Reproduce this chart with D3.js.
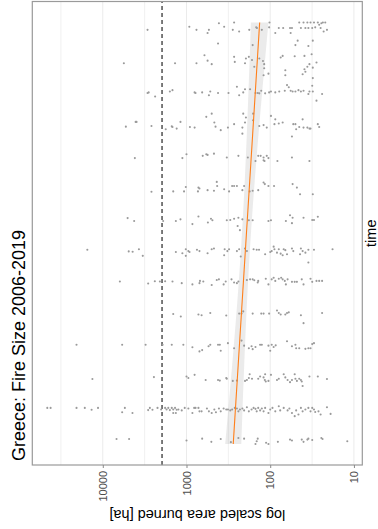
<!DOCTYPE html>
<html>
<head>
<meta charset="utf-8">
<script src="https://cdn.jsdelivr.net/npm/d3@7"></script>
<style>
  html, body { margin: 0; padding: 0; background: #fff; }
  svg { display: block; }
  text { font-family: "Liberation Sans", Arial, Helvetica, sans-serif; }
</style>
</head>
<body>
<svg id="chart" width="378" height="529"></svg>
<script>
// Fires per year: [fraction of the year, area burned in ha]
const fires2006 = [[0.59,6850],[0.59,4850],[0.54,1000],[0.60,650],[0.50,505],[0.59,390],[0.49,295],[0.62,240],[0.60,205],[0.434,150],[0.52,145],[0.60,141],[0.47,112],[0.434,105],[0.50,81],[0.57,58],[0.54,55],[0.57,42],[0.50,40],[0.57,36],[0.60,35],[0.56,31.5],[0.62,24.5],[0.59,23.7],[0.52,12]];
const fires2007 = [[0.57,46000],[0.57,42000],[0.57,20600],[0.57,16400],[0.51,13600],[0.57,11400],[0.57,5450],[0.43,5870],[0.41,4420],[0.50,2870],[0.57,2740],[0.51,2550],[0.57,2220],[0.52,2010],[0.57,1800],[0.52,1730],[0.57,1650],[0.50,1580],[0.57,1500],[0.52,1440],[0.57,1370],[0.51,1310],[0.52,1250],[0.41,1440],[0.41,1340],[0.49,1140],[0.57,1050],[0.55,950],[0.41,850],[0.57,810],[0.57,780],[0.57,720],[0.46,700],[0.46,660],[0.55,570],[0.46,540],[0.41,500],[0.52,465],[0.43,445],[0.55,410],[0.46,390],[0.55,360],[0.52,335],[0.52,320],[0.49,300],[0.52,285],[0.57,265],[0.55,250],[0.46,240],[0.52,230],[0.55,215],[0.49,205],[0.59,190],[0.46,180],[0.52,167],[0.57,158],[0.54,150],[0.46,145],[0.57,139],[0.49,132],[0.55,126],[0.46,120],[0.57,115],[0.41,105],[0.52,100],[0.57,94],[0.46,87],[0.62,79],[0.49,76],[0.57,69],[0.49,62],[0.55,59],[0.41,55],[0.31,51],[0.49,49],[0.36,46],[0.57,43],[0.46,41],[0.52,38],[0.57,35],[0.46,33],[0.57,31.5],[0.52,30],[0.44,29],[0.46,26.5],[0.36,25],[0.59,21],[0.38,19]];
const fires2008 = [[0.48,13300],[0.54,2450],[0.56,1000],[0.51,950],[0.61,800],[0.45,590],[0.45,420],[0.43,400],[0.51,335],[0.49,330],[0.42,280],[0.43,250],[0.42,200],[0.45,190],[0.51,180],[0.63,176],[0.49,165],[0.49,139],[0.56,132],[0.53,120],[0.45,116],[0.63,115],[0.40,113],[0.42,105],[0.61,98],[0.45,83],[0.49,79],[0.63,69],[0.53,66],[0.45,62],[0.38,58],[0.45,55],[0.63,51],[0.49,50],[0.42,48],[0.49,45],[0.45,43],[0.40,42],[0.26,41],[0.56,34],[0.56,27],[0.48,21]];
const fires2009 = [[0.56,20600],[0.56,5870],[0.56,3080],[0.56,1930],[0.56,1500],[0.56,1090],[0.48,850],[0.35,700],[0.39,650],[0.51,545],[0.56,520],[0.56,420],[0.56,400],[0.37,390],[0.61,320],[0.45,270],[0.69,220],[0.53,205],[0.45,180],[0.51,167],[0.42,162],[0.49,150],[0.56,132],[0.56,126],[0.53,105],[0.56,96],[0.49,91],[0.37,100],[0.54,86],[0.67,63],[0.51,55],[0.56,50],[0.45,49],[0.45,45],[0.43,38],[0.45,35],[0.45,33],[0.58,31.5],[0.61,30]];
const fires2010 = [[0.53,1440],[0.45,1170],[0.51,720],[0.49,660],[0.56,520],[0.48,335],[0.54,235],[0.54,220],[0.61,210],[0.54,162],[0.54,128],[0.54,120],[0.54,103],[0.64,83],[0.56,79],[0.51,75],[0.51,66],[0.56,63],[0.58,60],[0.49,43],[0.24,40],[0.56,24]];
const fires2011 = [[0.55,6250],[0.49,2870],[0.56,2390],[0.55,2080],[0.56,1800],[0.55,1470],[0.50,1140],[0.46,850],[0.50,700],[0.57,690],[0.55,630],[0.44,500],[0.60,435],[0.62,410],[0.46,360],[0.55,340],[0.62,290],[0.52,270],[0.50,250],[0.55,240],[0.60,190],[0.62,174],[0.62,162],[0.59,155],[0.52,141],[0.57,139],[0.64,113],[0.46,105],[0.62,96],[0.67,91],[0.57,87],[0.64,79],[0.67,74],[0.62,71],[0.57,67],[0.46,65],[0.62,62],[0.54,55],[0.54,51],[0.54,48],[0.62,42],[0.46,40],[0.64,33],[0.54,31.5],[0.57,28],[0.57,26],[0.57,24]];
const fires2012 = [[0.55,15300],[0.50,4900],[0.49,4400],[0.57,3700],[0.36,3330],[0.48,1340],[0.44,1120],[0.57,1020],[0.36,1020],[0.51,950],[0.48,920],[0.55,750],[0.51,700],[0.44,560],[0.57,500],[0.59,470],[0.57,350],[0.38,355],[0.51,325],[0.57,310],[0.51,250],[0.57,235],[0.34,225],[0.59,200],[0.51,190],[0.57,158],[0.55,145],[0.55,136],[0.41,115],[0.48,100],[0.51,96],[0.65,91],[0.57,89],[0.46,83],[0.57,79],[0.43,75],[0.38,71],[0.57,69],[0.54,66],[0.41,63],[0.59,55],[0.51,53],[0.41,44],[0.59,43],[0.51,41],[0.46,38],[0.55,35],[0.15,35],[0.55,30],[0.57,18]];
const fires2013 = [[0.55,5050],[0.46,4220],[0.46,1900],[0.46,1340],[0.51,1180],[0.36,850],[0.60,720],[0.41,555],[0.53,510],[0.48,490],[0.48,330],[0.49,300],[0.53,270],[0.56,240],[0.30,245],[0.17,230],[0.51,215],[0.48,180],[0.48,162],[0.46,105],[0.48,98],[0.46,65],[0.64,58],[0.56,54],[0.39,55],[0.56,40],[0.49,31.5],[0.49,30],[0.59,27]];
const fires2014 = [[0.38,2620],[0.39,1440],[0.39,1070],[0.53,1020],[0.51,720],[0.48,700],[0.39,730],[0.43,560],[0.41,470],[0.69,435],[0.56,430],[0.46,355],[0.39,310],[0.56,285],[0.56,270],[0.56,250],[0.43,215],[0.56,205],[0.39,176],[0.41,162],[0.43,139],[0.67,120],[0.62,116],[0.56,105],[0.56,90],[0.62,54],[0.51,48],[0.30,44],[0.30,31]];
const fires2015 = [[0.44,4140],[0.44,1120],[0.56,1000],[0.51,640],[0.56,580],[0.54,560],[0.58,470],[0.46,330],[0.51,240],[0.46,185],[0.35,150],[0.51,139],[0.51,130],[0.46,120],[0.35,117],[0.51,110],[0.44,105],[0.37,120],[0.35,82],[0.46,55],[0.35,34]];
const fires2016 = [[0.43,5300],[0.58,4050],[0.58,3950],[0.45,2620],[0.35,1770],[0.44,1500],[0.42,1470],[0.37,1310],[0.58,1180],[0.42,910],[0.40,800],[0.74,580],[0.84,500],[0.56,465],[0.43,450],[0.32,390],[0.40,320],[0.51,270],[0.84,210],[0.72,195],[0.56,200],[0.40,215],[0.21,215],[0.84,160],[0.63,160],[0.45,135],[0.48,120],[0.40,110],[0.77,98],[0.66,87],[0.51,89],[0.53,79],[0.56,71],[0.12,55],[0.51,53],[0.51,50],[0.35,49],[0.42,45],[0.66,41],[0.40,40],[0.40,36],[0.37,34],[0.37,33],[0.51,27],[0.42,26]];
const fires2017 = [[0.69,250],[0.61,200],[0.51,210],[0.42,235],[0.61,174],[0.49,150],[0.49,141],[0.48,135],[0.56,128],[0.48,115],[0.51,103],[0.54,98],[0.51,87],[0.54,78],[0.56,67],[0.74,63],[0.67,60],[0.56,57],[0.54,54],[0.54,50],[0.58,46],[0.54,43],[0.56,40],[0.54,34],[0.46,35],[0.54,31],[0.72,31.5],[0.46,24],[0.25,28],[0.96,31],[0.51,800],[0.51,650],[0.54,520],[0.42,540],[0.49,420],[0.49,315],[0.49,2920],[0.51,2830],[0.38,2370],[0.54,1580],[0.58,1470],[0.49,780]];
const fires2018 = [[0.68,610],[0.51,560],[0.40,500],[0.43,760],[0.63,270],[0.47,265],[0.58,195],[0.63,180],[0.43,200],[0.32,155],[0.53,165],[0.58,135],[0.50,122],[0.40,118],[0.27,118],[0.05,120],[0.10,105],[0.61,75],[0.66,71],[0.65,51],[0.66,39],[0.71,32],[0.40,34],[0.32,36],[0.24,39],[0.08,41],[0.16,38],[0.21,66],[0.05,66],[0.29,31],[0.45,28],[0.43,5600],[0.43,1370],[0.97,35]];
const fires2019 = [[0.48,2920],[0.58,925],[0.48,760],[0.38,560],[0.48,540],[0.69,410],[0.58,355],[0.71,270],[0.48,280],[0.43,235],[0.48,178],[0.56,147],[0.54,144],[0.48,126],[0.71,102],[0.56,103],[0.38,87],[0.54,79],[0.54,70],[0.54,58],[0.54,55],[0.38,57],[0.71,45],[0.54,43],[0.71,40],[0.54,38],[0.71,36],[0.54,35],[0.71,33],[0.54,31.5],[0.71,30],[0.56,29],[0.71,27],[0.64,26],[0.54,25],[0.69,24.5],[0.71,23.5],[0.43,23],[0.71,22],[0.48,21],[0.05,420],[0.00,162],[0.00,50],[0.14,47],[0.14,31]];

const years = [2006, 2007, 2008, 2009, 2010, 2011, 2012, 2013, 2014, 2015, 2016, 2017, 2018, 2019];
const firesByYear = [fires2006, fires2007, fires2008, fires2009, fires2010, fires2011, fires2012,
                     fires2013, fires2014, fires2015, fires2016, fires2017, fires2018, fires2019];

const areaTicks = [10, 100, 1000, 10000];
const thresholdHa = 1960;
const titleText = "Greece: Fire Size 2006-2019";
const yTitleText = "log scaled area burned [ha]";
const xTitleText = "time";

// The plot is laid out landscape (W x H) and then turned a quarter turn
const W = 529, H = 378;
const panel = { left: 64, right: 527.5, top: 32.3, bottom: 362.3 };

const points = [];
years.forEach((yr, i) => firesByYear[i].forEach(([f, ha]) => points.push({ t: yr + f, ha })));

const tExt = d3.extent(points, d => d.t);
const tPad = (tExt[1] - tExt[0]) * 0.05;
const x = d3.scaleLinear().domain([tExt[0] - tPad, tExt[1] + tPad]).range([panel.left, panel.right]);

const lExt = d3.extent(points, d => Math.log10(d.ha));
const lPad = (lExt[1] - lExt[0]) * 0.05;
const y = d3.scaleLog().domain([10 ** (lExt[0] - lPad), 10 ** (lExt[1] + lPad)]).range([panel.bottom, panel.top]);

const svg = d3.select("#chart");
svg.append("rect").attr("width", 378).attr("height", 529).attr("fill", "#fff");
const g = svg.append("g").attr("transform", `translate(0,${W}) rotate(-90)`);

// grid: major decades and minor half-decades
const [lo, hi] = y.domain().map(Math.log10);
const minorTicks = d3.range(Math.floor(lo), Math.ceil(hi) + 1).map(k => 10 ** (k + 0.5))
  .filter(v => Math.log10(v) > lo && Math.log10(v) < hi);
g.append("g").selectAll("line").data(minorTicks).join("line")
  .attr("x1", panel.left).attr("x2", panel.right)
  .attr("y1", d => y(d)).attr("y2", d => y(d))
  .attr("stroke", "#f0f0f0").attr("stroke-width", 1);
g.append("g").selectAll("line").data(areaTicks).join("line")
  .attr("x1", panel.left).attr("x2", panel.right)
  .attr("y1", d => y(d)).attr("y2", d => y(d))
  .attr("stroke", "#ebebeb").attr("stroke-width", 1);

// threshold
g.append("line")
  .attr("x1", panel.left).attr("x2", panel.right)
  .attr("y1", y(thresholdHa)).attr("y2", y(thresholdHa))
  .attr("stroke", "#111").attr("stroke-width", 1.1).attr("stroke-dasharray", "4,3");

// points
g.append("g").selectAll("circle").data(points).join("circle")
  .attr("cx", d => x(d.t)).attr("cy", d => y(d.ha)).attr("r", 1.05)
  .attr("fill", "#9a9a9a");

// linear fit of log10(area) on time with 95% confidence band
const n = points.length;
const tm = d3.mean(points, d => d.t);
const lm = d3.mean(points, d => Math.log10(d.ha));
let sxx = 0, sxy = 0;
points.forEach(d => { sxx += (d.t - tm) ** 2; sxy += (d.t - tm) * (Math.log10(d.ha) - lm); });
const slope = sxy / sxx, icpt = lm - slope * tm;
let sse = 0;
points.forEach(d => { sse += (Math.log10(d.ha) - (icpt + slope * d.t)) ** 2; });
const s = Math.sqrt(sse / (n - 2));
const q = 1.964;
const fit = d3.range(0, 81).map(i => {
  const t = tExt[0] + (tExt[1] - tExt[0]) * i / 80;
  const m = icpt + slope * t;
  const se = s * Math.sqrt(1 / n + (t - tm) ** 2 / sxx);
  return { t, m, lo: m - q * se, hi: m + q * se };
});
g.append("path").datum(fit)
  .attr("d", d3.area().x(d => x(d.t)).y0(d => y(10 ** d.lo)).y1(d => y(10 ** d.hi)))
  .attr("fill", "#999").attr("fill-opacity", 0.2);
g.append("path").datum(fit)
  .attr("d", d3.line().x(d => x(d.t)).y(d => y(10 ** d.m)))
  .attr("fill", "none").attr("stroke", "#ff7f1a").attr("stroke-width", 1.1);

// panel border
g.append("rect")
  .attr("x", panel.left).attr("y", panel.top)
  .attr("width", panel.right - panel.left).attr("height", panel.bottom - panel.top)
  .attr("fill", "none").attr("stroke", "#9a9a9a").attr("stroke-width", 1.2);

// area axis
const yAxis = g.append("g").attr("transform", `translate(${panel.left},0)`)
  .call(d3.axisLeft(y).tickValues(areaTicks).tickFormat(d3.format("d")).tickSize(3).tickPadding(3));
yAxis.select(".domain").remove();
yAxis.selectAll(".tick line").attr("stroke", "#8a8a8a");
yAxis.selectAll(".tick text").attr("fill", "#4d4d4d")
  .style("font-size", "11px").style("font-family", "'Liberation Sans', Arial, sans-serif");

// titles
g.append("text").attr("transform", `translate(19,${(panel.top + panel.bottom) / 2}) rotate(-90)`)
  .attr("text-anchor", "middle").attr("font-size", 14.5).attr("fill", "#000").text(yTitleText);
g.append("text").attr("x", (panel.left + panel.right) / 2).attr("y", 375.5)
  .attr("text-anchor", "middle").attr("font-size", 14.5).attr("fill", "#000").text(xTitleText);
g.append("text").attr("x", 68).attr("y", 24.5)
  .attr("font-size", 18).attr("fill", "#000").text(titleText);
</script>
</body>
</html>
